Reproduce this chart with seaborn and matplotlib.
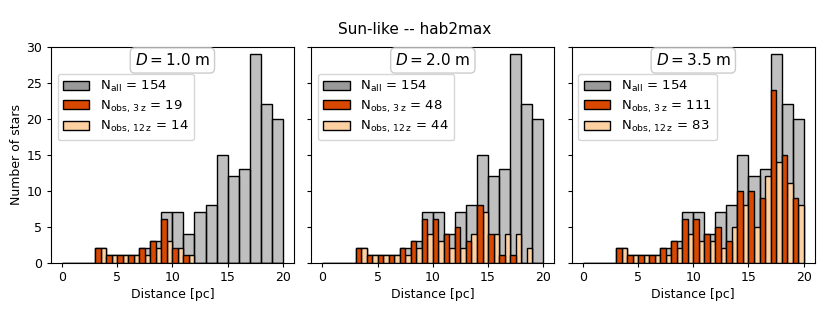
import numpy as np
import pandas as pd
import matplotlib
matplotlib.use("Agg")
import matplotlib.pyplot as plt
from matplotlib.patches import Patch
import seaborn as sns

# bin edges of the distance histogram (pc)
bin_edges = list(range(0, 21))
bin_centers = [b + 0.5 for b in bin_edges[:-1]]

# all Sun-like stars per 1 pc bin
n_all = [0, 0, 0, 2, 1, 1, 1, 2, 3, 7, 7, 4, 7, 8, 15, 12, 13, 29, 22, 20]

# observed stars per telescope diameter
diameters = [1.0, 2.0, 3.5]
obs_3z = [
    [0, 0, 0, 2, 1, 1, 1, 2, 3, 6, 2, 1, 0, 0, 0, 0, 0, 0, 0, 0],
    [0, 0, 0, 2, 1, 1, 1, 2, 3, 6, 6, 4, 5, 3, 8, 4, 1, 1, 0, 0],
    [0, 0, 0, 2, 1, 1, 1, 2, 3, 6, 6, 4, 5, 3, 10, 10, 9, 24, 15, 9],
]
obs_12z = [
    [0, 0, 0, 2, 1, 1, 1, 1, 2, 3, 2, 1, 0, 0, 0, 0, 0, 0, 0, 0],
    [0, 0, 0, 2, 1, 1, 1, 1, 2, 4, 3, 2, 2, 4, 7, 4, 4, 4, 2, 0],
    [0, 0, 0, 2, 1, 1, 1, 1, 2, 4, 3, 3, 2, 5, 8, 5, 12, 14, 11, 8],
]

c_all = "gray"
c_3z = "#d94801"
c_12z = "#fdd0a2"

plt.rcParams.update({
    "xtick.labelsize": 9, "ytick.labelsize": 9, "axes.labelsize": 9,
    "xtick.major.size": 3.2, "ytick.major.size": 3.2,
    "xtick.major.pad": 3.0, "ytick.major.pad": 3.0,
    "axes.labelpad": 2.5,
})

df_all = pd.DataFrame({"dist": bin_centers, "count": n_all})

fig, axes = plt.subplots(1, 3, figsize=(8.3, 3.11), dpi=100, sharey=True)
fig.subplots_adjust(left=0.0614, right=0.9816, top=0.850, bottom=0.1553, wspace=0.0724)

for i, ax in enumerate(axes):
    # all stars
    sns.histplot(data=df_all, x="dist", weights="count", bins=bin_edges, color=c_all,
                 alpha=0.5, edgecolor="k", linewidth=1, ax=ax)

    # observed, side by side in each bin
    df = pd.DataFrame({
        "dist": bin_centers + bin_centers,
        "count": obs_3z[i] + obs_12z[i],
        "sample": ["3z"] * len(bin_centers) + ["12z"] * len(bin_centers),
    })
    sns.histplot(data=df, x="dist", weights="count", hue="sample",
                 hue_order=["3z", "12z"], palette=[c_3z, c_12z],
                 multiple="dodge", bins=bin_edges, shrink=1, alpha=1,
                 edgecolor="k", linewidth=1, legend=False, ax=ax)

    ax.set_ylim(0, 30)
    ax.set_xticks([0, 5, 10, 15, 20])
    ax.set_xlabel("Distance [pc]")
    ax.set_ylabel("Number of stars" if i == 0 else "")
    ax.tick_params(labelleft=(i == 0))

    ax.text(0.5, 0.936, r"$D = %.1f$ m" % diameters[i], transform=ax.transAxes,
            ha="center", va="center", fontsize=11,
            bbox=dict(boxstyle="round,pad=0.3", fc="white", ec="0.8"))

    handles = [
        Patch(facecolor="#999999", edgecolor="k"),
        Patch(facecolor=c_3z, edgecolor="k"),
        Patch(facecolor=c_12z, edgecolor="k"),
    ]
    labels = [
        r"$\mathrm{N_{all}}$ = %d" % sum(n_all),
        r"$\mathrm{N_{obs,\,3\,z}}$ = %d" % sum(obs_3z[i]),
        r"$\mathrm{N_{obs,\,12\,z}}$ = %d" % sum(obs_12z[i]),
    ]
    ax.legend(handles, labels, loc="upper left", bbox_to_anchor=(0, 0.905),
              fontsize=9.5, labelspacing=0.3)

fig.suptitle("Sun-like -- hab2max", fontsize=11, y=0.904, va="center")

plt.savefig("out.png", dpi=100)
